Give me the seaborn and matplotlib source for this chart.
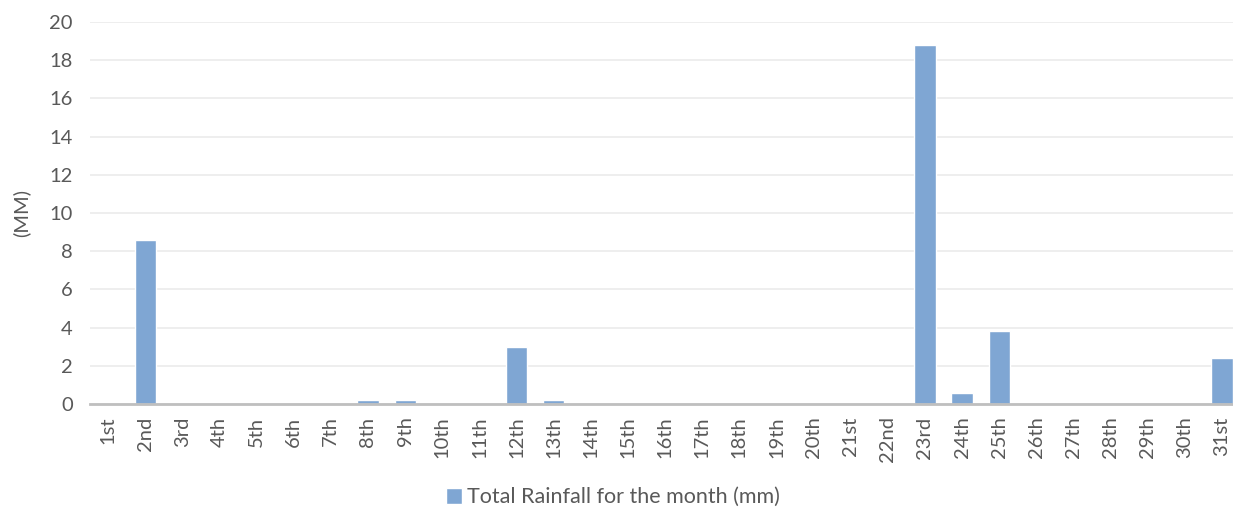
import pandas as pd
import matplotlib.pyplot as plt
import seaborn as sns

days = ["1st", "2nd", "3rd", "4th", "5th", "6th", "7th", "8th", "9th", "10th",
        "11th", "12th", "13th", "14th", "15th", "16th", "17th", "18th", "19th", "20th",
        "21st", "22nd", "23rd", "24th", "25th", "26th", "27th", "28th", "29th", "30th", "31st"]
rainfall = [0, 8.6, 0, 0, 0, 0, 0, 0.2, 0.2, 0,
            0, 3.0, 0.2, 0, 0, 0, 0, 0, 0, 0,
            0, 0, 18.8, 0.6, 3.8, 0, 0, 0, 0, 0, 2.4]
series_name = "Total Rainfall for the month (mm)"
yticks = [0, 2, 4, 6, 8, 10, 12, 14, 16, 18, 20]

sns.set_style("white")
plt.rcParams["font.family"] = ["Lato", "DejaVu Sans"]

df = pd.DataFrame({"day": days, "rain": rainfall, "series": series_name})

fig = plt.figure(figsize=(12.33, 5.09), dpi=100)
ax = fig.add_axes([0.0726, 0.2063, 0.9335, 0.7505])

sns.barplot(data=df, x="day", y="rain", hue="series", palette=["#7FA6D3"],
            saturation=1, width=0.57, ax=ax, legend=True)

ax.set_ylim(0, 20)
ax.set_yticks(yticks)
ax.grid(axis="y", color="#ebebeb", linewidth=1.2)
ax.set_axisbelow(True)
for s in ["top", "right", "left"]:
    ax.spines[s].set_visible(False)
ax.spines["bottom"].set_color("#bfbfbf")
ax.spines["bottom"].set_linewidth(2)
ax.tick_params(axis="both", length=0, colors="#595959", labelsize=14.5)
ax.tick_params(axis="x", rotation=90, pad=9)
ax.tick_params(axis="y", pad=12)
ax.set_xlabel("")
ax.set_ylabel("(MM)", color="#595959", fontsize=14.5, labelpad=14)

ax.get_legend().remove()
handles, labels = ax.get_legend_handles_labels()
fig.legend(handles, labels, loc="center", bbox_to_anchor=(0.497, 0.023), frameon=False,
           fontsize=15.5, labelcolor="#595959", handlelength=0.75, handleheight=0.75,
           handletextpad=0.25)

fig.savefig("out.png", dpi=100)
